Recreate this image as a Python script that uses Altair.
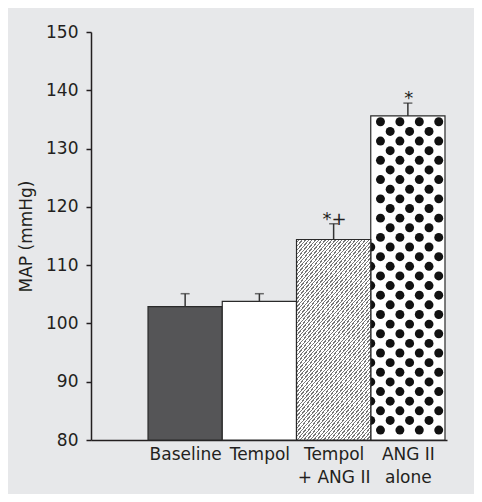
import altair as alt
import pandas as pd

categories = ["Baseline", "Tempol", "Tempol + ANG II", "ANG II alone"]
means = [102.9, 103.8, 114.4, 135.6]
err_top = [105.1, 105.1, 117.1, 137.8]
marks = ["", "", "*+", "*"]

df = pd.DataFrame({"cond": categories, "mean": means, "top": err_top, "ann": marks,
                   "idx": list(range(len(categories)))})

INK = "#231f20"
FONT = "DejaVu Sans"

xscale = alt.Scale(domain=[-0.768, 4.027], nice=False, zero=False, padding=0)
label_expr = ("datum.value == 0.5 ? 'Baseline' : datum.value == 1.5 ? 'Tempol' : "
              "datum.value == 2.5 ? ['Tempol', '+ ANG II'] : ['ANG II', 'alone']")
xaxis = alt.Axis(title=None, values=[0.5, 1.5, 2.5, 3.5], labelAngle=0, ticks=False,
                 labelExpr=label_expr, grid=False,
                 labelFont=FONT, labelFontSize=17, labelColor=INK, labelPadding=6,
                 labelLineHeight=23, domainColor=INK, domainWidth=1.5)
yscale = alt.Scale(domain=[80, 150], nice=False, zero=False, padding=0)
yaxis = alt.Axis(title="MAP (mmHg)", values=[80, 90, 100, 110, 120, 130, 140, 150],
                 grid=False, tickSize=5, tickWidth=1.5, tickColor=INK,
                 domainColor=INK, domainWidth=1.5, labelFont=FONT, labelFontSize=17,
                 labelColor=INK, labelPadding=8, titleFont=FONT, titleFontSize=17,
                 titleFontWeight="normal", titleColor=INK, titlePadding=10)

def XQ(field):
    return alt.X(field, type="quantitative", scale=xscale, axis=xaxis)

def YQ(field):
    return alt.Y(field, type="quantitative", scale=yscale, axis=yaxis)

base = alt.Chart(df).transform_calculate(x0="datum.idx", x1="datum.idx + 1",
                                         xc="datum.idx + 0.5")

def bar(name, fill):
    return base.transform_filter(alt.datum.cond == name).mark_bar(
        fill=fill, stroke="#2a2a2a", strokeWidth=1.2).encode(
        x=XQ("x0"), x2="x1:Q", y=YQ("mean"), y2=alt.datum(80),
    )

# hatch gradient
N = 72
stops = []
for k in range(N):
    stops += [
        {"offset": k / N, "color": "#ffffff"},
        {"offset": (k + 0.62) / N, "color": "#ffffff"},
        {"offset": (k + 0.62) / N, "color": "#777777"},
        {"offset": (k + 1) / N, "color": "#777777"},
    ]
hatch = {"gradient": "linear", "stops": stops, "x1": 0, "y1": 0, "x2": 0.543, "y2": 1.206}

# dot texture for "ANG II alone"
dots = alt.Chart(alt.sequence(0, 132, as_="i")).transform_calculate(
    r="floor(datum.i / 4)",
).transform_calculate(
    col="2 * (datum.i % 4) + (datum.r % 2 == 0 ? 1 : 0)",
    yv="81.7 + datum.r * 1.653",
).transform_calculate(
    xv="3 + datum.col * 0.1308",
).transform_filter(
    f"datum.col > 0 || datum.yv < {means[2]} - 0.8"
).mark_point(filled=True, color="#111111", size=80, opacity=1, strokeWidth=0).encode(
    x=XQ("xv"), y=YQ("yv"),
)

rules = base.mark_rule(color="#333333", strokeWidth=1.5).encode(
    x=XQ("xc"), y=YQ("mean"), y2="top:Q")
caps = base.mark_tick(color="#333333", size=9, thickness=1.5, orient="horizontal").encode(
    x=XQ("xc"), y=YQ("top"))
text = base.transform_filter(alt.datum.ann != "").mark_text(
    font=FONT, fontSize=18, color=INK, baseline="alphabetic", dy=1, dx=1).encode(
    x=XQ("xc"), y=YQ("top"), text="ann:N")

chart = alt.layer(
    bar("Baseline", "#555557"),
    bar("Tempol", "#ffffff"),
    bar("ANG II alone", "#ffffff"),
    dots,
    bar("Tempol + ANG II", hatch),
    rules, caps, text,
).properties(
    width=356, height=408, background="#e7e8ea",
    padding={"left": 83, "top": 24, "right": 27, "bottom": 54},
    autosize=alt.AutoSizeParams(type="none"),
).configure_view(stroke=None)

chart.save("out.html", embed_options={"renderer": "svg", "actions": False})
